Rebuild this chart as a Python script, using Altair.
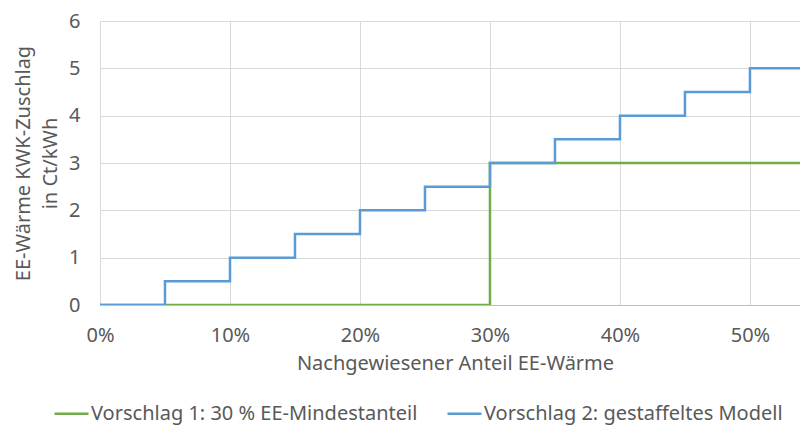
import altair as alt
import pandas as pd

series1 = "Vorschlag 1: 30 % EE-Mindestanteil"
series2 = "Vorschlag 2: gestaffeltes Modell"

x1 = [0.0, 0.30, 0.55]
y1 = [0.0, 3.0, 3.0]

x2 = [0.0, 0.05, 0.10, 0.15, 0.20, 0.25, 0.30, 0.35, 0.40, 0.45, 0.50, 0.55]
y2 = [0.0, 0.5, 1.0, 1.5, 2.0, 2.5, 3.0, 3.5, 4.0, 4.5, 5.0, 5.0]

x_ticks = [0, 0.1, 0.2, 0.3, 0.4, 0.5]
y_ticks = [0, 1, 2, 3, 4, 5, 6]

df = pd.concat([
    pd.DataFrame({"x": x1, "y": y1, "s": series1, "o": range(len(x1))}),
    pd.DataFrame({"x": x2, "y": y2, "s": series2, "o": range(len(x2))}),
])

FONT = "Noto Sans, sans-serif"
GREY = "#595959"

chart = alt.Chart(df).mark_line(interpolate="step-after", strokeWidth=2.5, clip=True).encode(
    x=alt.X("x:Q", scale=alt.Scale(domain=[0, 0.5385], nice=False),
            axis=alt.Axis(title="Nachgewiesener Anteil EE-Wärme", format=".0%",
                          values=x_ticks, titleX=355, labelFlush=False)),
    y=alt.Y("y:Q", scale=alt.Scale(domain=[0, 6], nice=False),
            axis=alt.Axis(title=["EE-Wärme KWK-Zuschlag", "in Ct/kWh"],
                          values=y_ticks, titleX=-71, titleBaseline="alphabetic",
                          titleLineHeight=27, labelFlush=False)),
    color=alt.Color("s:N", scale=alt.Scale(domain=[series1, series2], range=["#70AD47", "#5B9BD5"]),
                    legend=alt.Legend(title=None, orient="none", direction="horizontal",
                                      legendX=-47, legendY=374, symbolType="stroke",
                                      symbolSize=1156, symbolStrokeWidth=2.5,
                                      labelFontSize=20, labelFont=FONT, labelColor=GREY,
                                      columnPadding=24, labelOffset=1, labelLimit=500,
                                      padding=0)),
    order="o:Q",
).properties(
    width=700, height=284,
    autosize=alt.AutoSizeParams(type="none"),
    padding={"left": 92, "top": 13, "right": 0, "bottom": 121},
).configure_view(stroke=None).configure_axis(
    labelFont=FONT, titleFont=FONT, labelFontSize=20, titleFontSize=20,
    labelColor=GREY, titleColor=GREY, titleFontWeight="normal",
    gridColor="#D9D9D9", gridWidth=1, ticks=False, domain=False,
).configure_axisX(domain=True, domainColor="#BFBFBF", labelPadding=20, titlePadding=8
).configure_axisY(labelPadding=20)

chart.save("out.html", embed_options={"renderer": "svg", "actions": False})
